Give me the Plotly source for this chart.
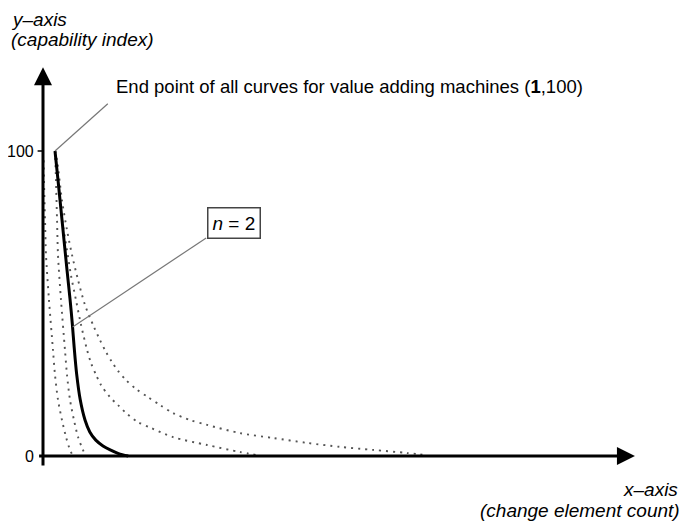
import plotly.graph_objects as go

# ---- data (x = change element count units, y = capability index) ----
solid_x = [1.0, 1.25, 1.5, 1.75, 2.0, 2.25, 2.45, 2.6, 2.8, 3.1, 3.5, 3.9, 4.4, 5.0, 5.6, 6.3, 7.1]
solid_y = [100, 90.5, 80.7, 70.8, 61.0, 51.5, 43.0, 35.5, 27.0, 18.5, 11.8, 7.9, 5.2, 3.3, 2.0, 0.8, 0.0]

dot_a_x = [0.05, 0.08, 0.17, 0.25, 0.5, 0.83, 1.0, 1.25, 1.58, 1.92, 2.25, 2.5]
dot_a_y = [97.0, 90.5, 77.4, 65.9, 51.1, 34.8, 26.6, 18.4, 11.8, 6.2, 2.0, 0.0]

dot_b_x = [1.0, 1.08, 1.17, 1.25, 1.5, 1.83, 2.0, 2.25, 2.58, 2.92, 3.33, 3.58]
dot_b_y = [100, 90.5, 77.4, 65.9, 51.1, 34.8, 26.6, 18.4, 11.8, 6.2, 2.0, 0.0]

dot_c_x = [1.0, 1.08, 1.42, 1.67, 2.0, 2.33, 2.75, 3.17, 3.67, 4.0, 4.42, 4.83, 5.58, 6.25,
           6.92, 7.92, 9.0, 10.83, 13.67, 16.42, 17.83]
dot_c_y = [100, 97.0, 83.9, 75.7, 67.5, 59.3, 51.1, 43.0, 34.8, 30.5, 26.6, 23.3, 19.3, 16.7,
           14.1, 11.1, 9.2, 6.2, 3.6, 1.3, 0.3]

dot_d_x = [1.0, 1.17, 1.58, 2.0, 2.42, 2.92, 3.5, 4.17, 4.75, 5.25, 5.75, 6.25, 6.92, 7.75, 8.75,
           9.75, 10.83, 12.25, 13.67, 16.42, 19.17, 22.0, 24.75, 27.5, 30.33, 32.0]
dot_d_y = [100, 97.0, 83.9, 74.1, 65.9, 57.7, 49.5, 43.0, 38.0, 34.1, 30.8, 27.9, 24.9, 22.0, 19.3,
           16.7, 14.1, 11.8, 10.2, 7.5, 5.9, 4.3, 3.0, 2.0, 1.0, 0.3]

y_tick_vals = [0, 100]
y_tick_text = ["0", "100"]

end_point = (1, 100)
n_label = "<i>n</i> = 2"
end_label = "End point of all curves for value adding machines (<b>1</b>,100)"

FONT = "Liberation Sans, Arial, sans-serif"

# page offset (browser body margin) compensation
OFF = 8
W, H = 687 - OFF, 525 - OFF
X0PX, Y0PX = 43 - OFF, 456 - OFF      # pixel position of the origin inside the figure
PXX, PXY = 12.0, 3.05                 # pixels per unit


def px(xp):
    return (xp - OFF) / W


def py(yp):
    return 1 - (yp - OFF) / H


fig = go.Figure()

for xs, ys in [(dot_a_x, dot_a_y), (dot_b_x, dot_b_y), (dot_c_x, dot_c_y), (dot_d_x, dot_d_y)]:
    fig.add_trace(go.Scatter(x=xs, y=ys, mode="lines",
                             line=dict(color="#555555", width=1.9, dash="2px,5px", shape="spline", smoothing=0.8),
                             hoverinfo="skip", showlegend=False))

fig.add_trace(go.Scatter(x=solid_x, y=solid_y, mode="lines",
                         line=dict(color="black", width=3, shape="spline", smoothing=0.8),
                         hoverinfo="skip", showlegend=False))

# axes with arrow heads
fig.add_annotation(x=0, y=127.5, ax=0, ay=-3.6, xref="x", yref="y", axref="x", ayref="y",
                   text="", showarrow=True, arrowhead=2, arrowsize=1.2, arrowwidth=3, arrowcolor="black", standoff=0)
fig.add_annotation(x=49.33, y=0, ax=-0.45, ay=0, xref="x", yref="y", axref="x", ayref="y",
                   text="", showarrow=True, arrowhead=2, arrowsize=1.2, arrowwidth=3, arrowcolor="black", standoff=0)

# tick at 100
fig.add_shape(type="line", x0=-0.45, x1=0, y0=100, y1=100, xref="x", yref="y",
              line=dict(color="black", width=1.5))

for v, t in zip(y_tick_vals, y_tick_text):
    fig.add_annotation(x=-0.6, y=v, xref="x", yref="y", text=t, showarrow=False,
                       xanchor="right", yanchor="middle", font=dict(family=FONT, size=16, color="black"))

# leader lines
fig.add_shape(type="line", x0=end_point[0], y0=end_point[1], x1=5.4, y1=115.5, xref="x", yref="y",
              line=dict(color="#777777", width=1.2))
fig.add_shape(type="line", x0=2.47, y0=42.3, x1=13.6, y1=71.5, xref="x", yref="y",
              line=dict(color="#777777", width=1.2))

fig.add_annotation(x=5.9, y=121.0, xref="x", yref="y", text=end_label, showarrow=False,
                   xanchor="left", yanchor="middle", font=dict(family=FONT, size=18.5, color="black"))

fig.add_annotation(x=15.9, y=76.4, xref="x", yref="y", text=n_label, showarrow=False,
                   xanchor="center", yanchor="middle", bordercolor="#444444", borderwidth=1.5,
                   borderpad=4, bgcolor="white", font=dict(family=FONT, size=19, color="black"))

# axis titles
title_font = dict(family=FONT, size=19, color="black")
fig.add_annotation(x=px(9), y=py(19), xref="paper", yref="paper", text="<i>y–axis</i>", showarrow=False,
                   xanchor="left", yanchor="middle", font=title_font)
fig.add_annotation(x=px(9), y=py(39), xref="paper", yref="paper", text="<i>(capability index)</i>",
                   showarrow=False, xanchor="left", yanchor="middle", font=title_font)
fig.add_annotation(x=px(680), y=py(489), xref="paper", yref="paper", text="<i>x–axis</i>", showarrow=False,
                   xanchor="right", yanchor="middle", font=title_font)
fig.add_annotation(x=px(682), y=py(510), xref="paper", yref="paper", text="<i>(change element count)</i>",
                   showarrow=False, xanchor="right", yanchor="middle", font=title_font)

fig.update_layout(
    width=W, height=H, autosize=False,
    margin=dict(l=0, r=0, t=0, b=0),
    paper_bgcolor="white", plot_bgcolor="white",
    xaxis=dict(visible=False, range=[-X0PX / PXX, (W - X0PX) / PXX], fixedrange=True),
    yaxis=dict(visible=False, range=[(Y0PX - H) / PXY, Y0PX / PXY], fixedrange=True),
    showlegend=False,
)

fig.write_html("out.html")
